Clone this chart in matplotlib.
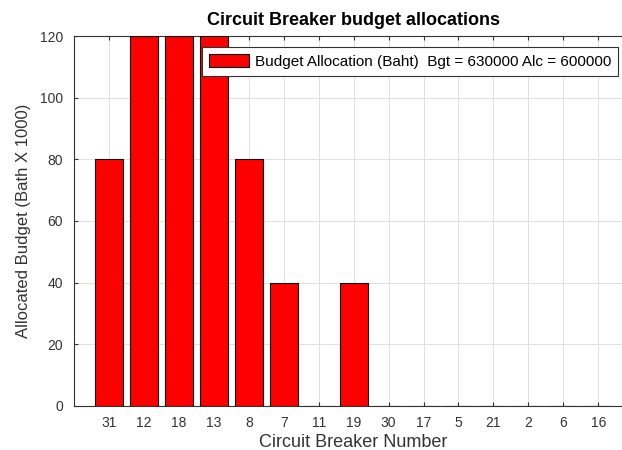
import matplotlib.pyplot as plt
import numpy as np

plt.rcParams["font.family"] = ["Liberation Sans", "DejaVu Sans"]

# --- data ---
breakers = ["31", "12", "18", "13", "8", "7", "11", "19", "30", "17", "5", "21", "2", "6", "16"]
alloc = [80, 120, 120, 120, 80, 40, 0, 40, 0, 0, 0, 0, 0, 0, 0]  # x 1000 Baht
budget_total = 630000
alloc_total = 600000

fig = plt.figure(figsize=(6.22, 4.5), dpi=100)
# axes runs a bit past the right edge of the picture, like the cropped original
ax = fig.add_axes([0.119, 0.098, 0.899, 0.822])

x = np.arange(1, len(breakers) + 1)
ax.bar(x, alloc, width=0.8, color="red", edgecolor="black", linewidth=0.8,
       label=f"Budget Allocation (Baht)  Bgt = {budget_total} Alc = {alloc_total}", zorder=3)

ax.set_xlim(0, len(breakers) + 1)
ax.set_ylim(0, 120)
ax.set_xticks(x)
ax.set_xticklabels(breakers)
ax.set_yticks(np.arange(0, 121, 20))

ax.grid(True, color="#e0e0e0", linewidth=0.7, zorder=0)
ax.tick_params(direction="in", top=True, right=True, length=3, colors="#333333",
               labelsize=10, labelcolor="#333333")
ax.tick_params(axis="x", pad=7)
ax.tick_params(axis="y", pad=8)
for s in ax.spines.values():
    s.set_color("#333333")
    s.set_linewidth(0.8)

ax.set_title("Circuit Breaker budget allocations", fontsize=13, fontweight="bold", pad=8)
ax.set_xlabel("Circuit Breaker Number", fontsize=13, color="#333333", labelpad=3)
ax.set_ylabel("Allocated Budget (Bath X 1000)", fontsize=12, color="#333333", labelpad=6)

leg = ax.legend(loc="upper right", bbox_to_anchor=(618 / 622, 1 - 47 / 450),
                bbox_transform=fig.transFigure, fontsize=11,
                handlelength=2.6, handleheight=0.95, borderpad=0.45, handletextpad=0.4,
                borderaxespad=0, fancybox=False, framealpha=1, edgecolor="#333333")
leg.get_frame().set_linewidth(0.8)
leg.set_zorder(5)

fig.savefig("out.png", dpi=100)
